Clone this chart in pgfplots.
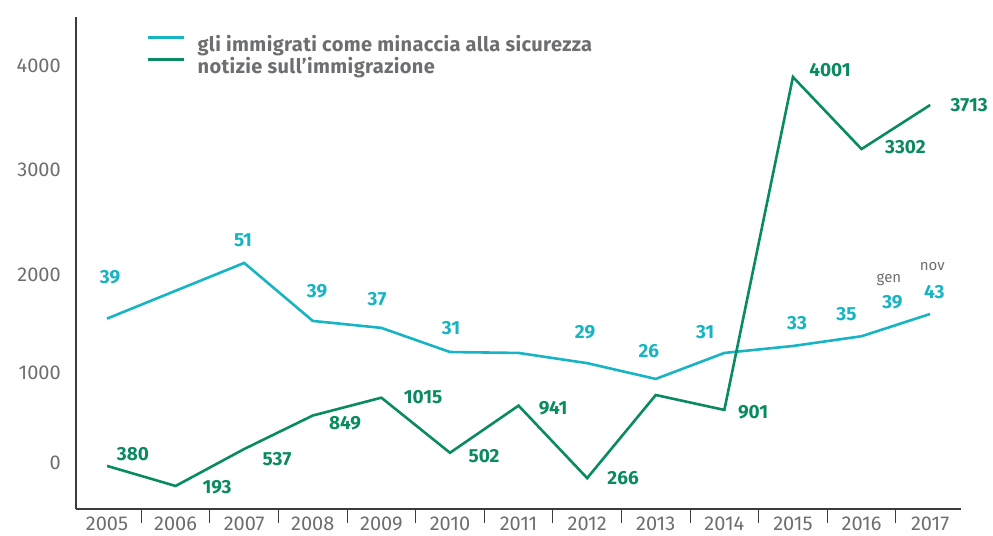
\documentclass[border=0pt]{standalone}
\usepackage{pgfplots}
\pgfplotsset{compat=1.18}
\usepackage{fontspec}
\setmainfont{Fira Sans}
\definecolor{cy}{HTML}{17B4C3}
\definecolor{gr}{HTML}{0A8A62}
\definecolor{tx}{HTML}{6D6E71}
\definecolor{ax}{HTML}{3C3C3C}
\newcommand\lblfont{\fontsize{19bp}{22bp}\selectfont\bfseries}
\newcommand\legfont{\fontsize{20bp}{23bp}\selectfont\bfseries\addfontfeature{LetterSpace=2}}
\newcommand\tickfont{\fontsize{20bp}{23bp}\selectfont}
\newcommand\smallfont{\fontsize{15bp}{18bp}\selectfont}
\begin{document}
\begin{tikzpicture}
\useasboundingbox (-76bp,-27bp) rectangle (917bp,509bp);
% cyan series on its own (hidden) scale
\begin{axis}[at={(0,0)}, anchor=south west, scale only axis,
  width=885bp, height=492bp,
  xmin=-0.452, xmax=12.45, ymin=-2.03, ymax=104,
  hide axis, clip=false]
\addplot[cy, line width=2.6bp] coordinates {
(0,39)(1,45)(2,51)(3,38.5)(4,37)(5,31.8)(6,31.6)(7,29.4)(8,26)(9,31.6)(10,33.1)(11,35.2)(12,40)};
\end{axis}
% green series and visible axes
\begin{axis}[at={(0,0)}, anchor=south west, scale only axis,
  width=885bp, height=492bp,
  xmin=-0.452, xmax=12.45, ymin=-21.4, ymax=4559.6,
  clip=false,
  axis x line*=bottom, axis y line*=left,
  axis line style={ax, line width=1.3bp, -},
  xtick={0,...,12},
  xticklabels={2005,2006,2007,2008,2009,2010,2011,2012,2013,2014,2015,2016,2017},
  minor xtick={0.5,1.5,...,11.5},
  tick align=outside, major tick length=0pt, minor tick length=14bp,
  minor tick style={ax, line width=1bp},
  ytick={407,1245,2157,3135,4103},
  yticklabels={0,1000,2000,3000,4000},
  /pgf/number format/assume math mode=true,
  ticklabel style={font=\tickfont, text=tx},
  xticklabel style={inner sep=0pt, anchor=north, yshift=-8bp},
  yticklabel style={inner sep=0pt, anchor=east, xshift=-15bp},
  legend cell align=left,
  legend image code/.code={\draw[#1] (0bp,7bp) -- (36bp,7bp);},
  legend style={at={(0.0802,0.962)}, anchor=north west, draw=none, fill=none,
    inner sep=0pt, outer sep=0pt, row sep=4bp, font=\legfont, text=tx,
    nodes={inner sep=0pt},
    /tikz/every odd column/.append style={column sep=12bp}},
]
\addlegendimage{cy, line width=2.6bp}
\addlegendentry{gli immigrati come minaccia alla sicurezza}
\addplot[gr, line width=2.6bp] coordinates {
(0,380)(1,193)(2,537)(3,849)(4,1015)(5,502)(6,941)(7,266)(8,1040)(9,901)(10,4001)(11,3330)(12,3740)};
\addlegendentry{notizie sull’immigrazione}
% cyan labels
\begin{scope}[every node/.style={font=\lblfont, text=cy}]
\node at (axis cs:0.044,2138) {39};
\node at (axis cs:1.983,2483) {51};
\node at (axis cs:3.062,2009) {39};
\node at (axis cs:3.937,1933) {37};
\node at (axis cs:5.016,1664) {31};
\node at (axis cs:6.97,1627) {29};
\node at (axis cs:7.90,1450) {26};
\node at (axis cs:8.72,1627) {31};
\node at (axis cs:10.06,1711) {33};
\node at (axis cs:10.78,1795) {35};
\node at (axis cs:11.45,1906) {39};
\node at (axis cs:12.06,2000) {43};
\end{scope}
\node[font=\smallfont, text=tx] at (axis cs:11.40,2111) {gen};
\node[font=\smallfont, text=tx] at (axis cs:12.03,2237) {nov};
% green labels
\begin{scope}[every node/.style={font=\lblfont, text=gr}]
\node at (axis cs:0.379,491) {380};
\node at (axis cs:1.604,183) {193};
\node at (axis cs:2.479,444) {537};
\node at (axis cs:3.470,779) {849};
\node at (axis cs:4.607,1021) {1015};
\node at (axis cs:5.497,472) {502};
\node at (axis cs:6.503,919) {941};
\node at (axis cs:7.524,267) {266};
\node at (axis cs:9.420,882) {901};
\node at (axis cs:10.54,4066) {4001};
\node at (axis cs:11.64,3348) {3302};
\node at (axis cs:12.57,3740) {3713};
\end{scope}
\end{axis}
\end{tikzpicture}
\end{document}
